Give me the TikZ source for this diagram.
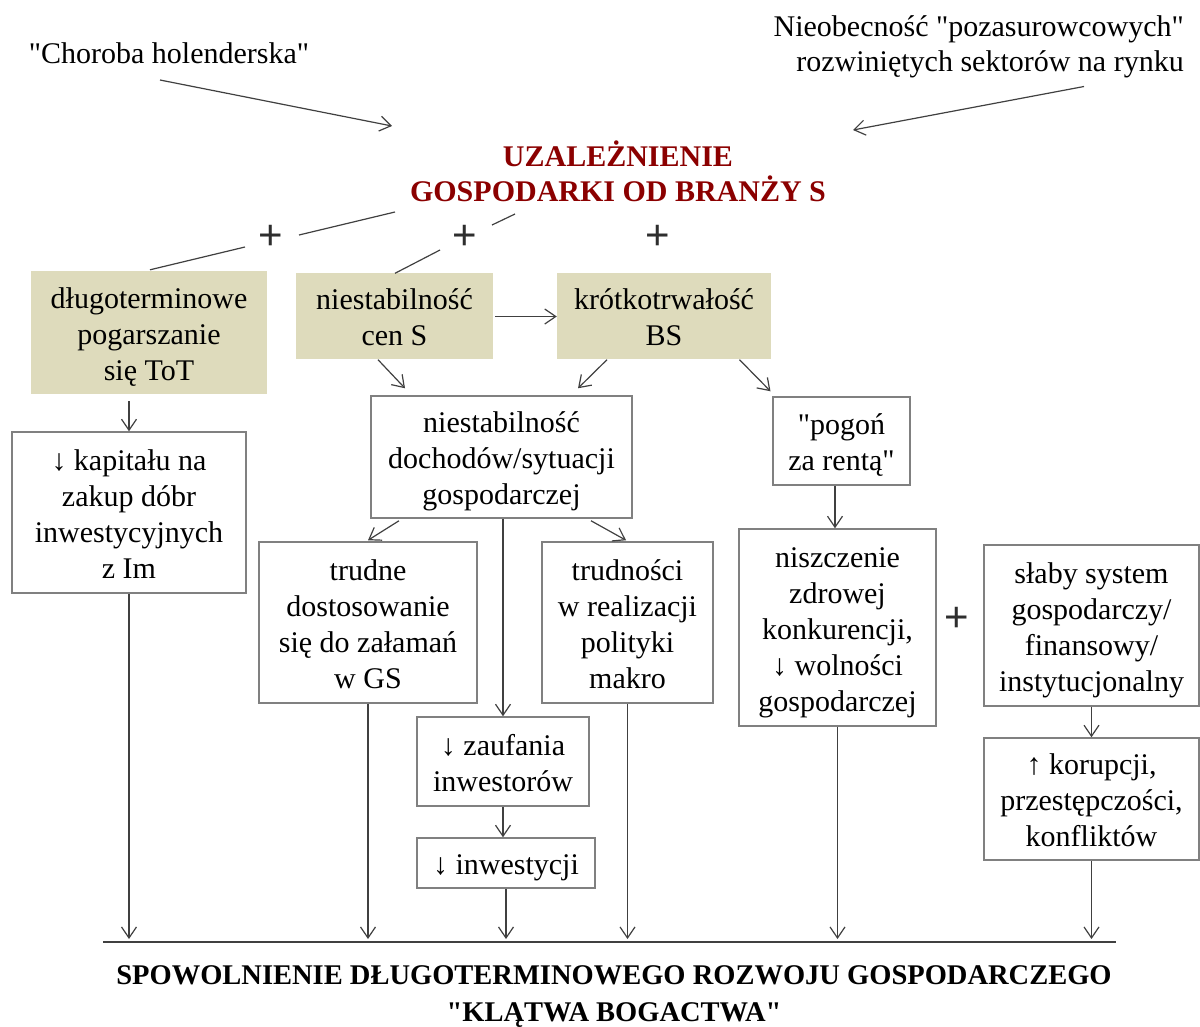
\documentclass[tikz,border=0pt]{standalone}
\usepackage{fontspec}
\setmainfont{Liberation Serif}[Ligatures=TeXOff]
\newfontfamily\plusfont{Liberation Sans}
\usetikzlibrary{arrows.meta,calc}
\definecolor{tanfill}{HTML}{DEDBBC}
\definecolor{titlered}{HTML}{8B0000}
\definecolor{linegray}{HTML}{404040}
\definecolor{boxgray}{HTML}{808080}
\definecolor{plusgray}{HTML}{2E2E2E}
% invisible strut that fixes the height and depth of a text line in a box
\newcommand\boxstrut{\rule[-6.5pt]{0pt}{36pt}}
\begin{document}
\begin{tikzpicture}[x=1pt,y=-1pt,
  every node/.style={font=\fontsize{30}{36}\selectfont, inner sep=0pt, align=center},
  sz/.style 2 args={minimum width=#1pt, minimum height=#2pt},
  boxtext/.style={execute at end node=\boxstrut},
  cause/.style={boxtext, fill=tanfill},
  effect/.style={boxtext, draw=boxgray, line width=1.5pt, fill=white},
  plus/.style={font=\plusfont\fontsize{42}{42}\selectfont, text=plusgray},
  link/.style={draw=linegray, line width=1.2pt},
  arr/.style={link, -{Straight Barb[length=11pt,width=15pt]}}]
\useasboundingbox (0,0) rectangle (1200,1026);

% free texts
\node[anchor=base] (hol) at (169,63) {"Choroba holenderska"};
\node[anchor=east, align=right, font=\fontsize{30}{35}\selectfont] (nieob) at (1184,46.5)
  {Nieobecność "pozasurowcowych"\\rozwiniętych sektorów na rynku};
\node[text=titlered, font=\bfseries\fontsize{30}{35}\selectfont] (title) at (618,171)
  {UZALEŻNIENIE\\GOSPODARKI OD BRANŻY S};

% plus signs
\node[plus] (p1) at (271,237) {+};
\node[plus] (p2) at (465,237) {+};
\node[plus] (p3) at (658,237) {+};
\node[plus] (p4) at (957,619) {+};

% shaded causes
\node[cause, sz={236}{123}] (b1) at (149,332.5) {\boxstrut długoterminowe\\pogarszanie\\się ToT};
\node[cause, sz={197}{86}] (b2) at (394.5,315.5) {\boxstrut niestabilność\\cen S};
\node[cause, sz={214}{86}] (b3) at (664,315.5) {\boxstrut krótkotrwałość\\BS};

% effects
\node[effect, sz={234}{161}] (b4) at (129,512.5) {\boxstrut ↓ kapitału na\\zakup dóbr\\inwestycyjnych\\z Im};
\node[effect, sz={261}{122}] (b5) at (501.5,457) {\boxstrut niestabilność\\dochodów/sytuacji\\gospodarczej};
\node[effect, sz={137}{88}] (b6) at (841.5,441) {\boxstrut "pogoń\\za rentą"};
\node[effect, sz={197}{197}] (b7) at (837.5,627.5) {\boxstrut niszczenie\\zdrowej\\konkurencji,\\↓ wolności\\gospodarczej};
\node[effect, sz={215}{161}] (b8) at (1091.5,625.5) {\boxstrut słaby system\\gospodarczy/\\finansowy/\\instytucjonalny};
\node[effect, sz={215}{122}] (b9) at (1091.5,799) {\boxstrut ↑ korupcji,\\przestępczości,\\konfliktów};
\node[effect, sz={218}{161}] (b10) at (368,622.5) {\boxstrut trudne\\dostosowanie\\się do załamań\\w GS};
\node[effect, sz={171}{161}] (b11) at (627.5,622.5) {\boxstrut trudności\\w realizacji\\polityki\\makro};
\node[effect, sz={172}{89}] (b12) at (503,761.5) {\boxstrut ↓ zaufania\\inwestorów};
\node[effect, sz={178}{50}] (b13) at (506,863) {\boxstrut ↓ inwestycji};

% outside factors pointing at the dependence
\draw[arr] ($(hol.base)+(-9,17)$) -- ($(title.center)+(-226,-45)$);
\draw[arr] ($(nieob.east)+(-100,40)$) -- ($(title.center)+(235,-41)$);

% dependence combined with the first two causes
\draw[link] ($(title.center)+(-223,41)$) -- ($(p1)+(28,-2)$);
\draw[link] ($(p1)+(-26,10)$) -- ($(b1.north)+(1,-1)$);
\draw[link] ($(title.center)+(-103,43)$) -- ($(p2)+(27,-12)$);
\draw[link] ($(p2)+(-25,13)$) -- ($(b2.north)+(0.5,1)$);

% causal arrows
\draw[arr] ($(b2.east)+(2,1)$) -- ($(b3.west)+(0,1)$);
\draw[arr] ($(b1.south)+(-20,7)$) -- (b4.north);
\draw[arr] ($(b2.south)+(-16.5,1)$) -- ($(b5.north)+(-96.5,-7)$);
\draw[arr] ($(b3.south)+(-57,1)$) -- ($(b5.north)+(76.5,-7)$);
\draw[arr] ($(b3.south)+(75.5,1)$) -- ($(b6.north)+(-71,-5)$);
\draw[arr] ($(b6.south)+(-6.5,0)$) -- ($(b7.north)+(-2.5,0)$);
\draw[arr] ($(b5.south)+(-102.5,2)$) -- ($(b10.north)+(0,-1)$);
\draw[arr] ($(b5.south)+(89.5,2)$) -- ($(b11.north)+(-1.5,-1)$);
\draw[arr] (b5.south -| b12.north) -- (b12.north);
\draw[arr] (b12.south) -- (b13.north -| b12.south);
\draw[arr] (b8.south) -- (b9.north);

% common outcome line
\coordinate (bl) at (103,942);
\coordinate (br) at (1116,942);
\draw[draw=linegray, line width=2pt] (bl) -- (br);
\foreach \b in {b4,b10,b13,b11,b7,b9}
  \draw[arr] (\b.south) -- ($(\b.south |- bl)+(0,-3)$);

\node[font=\bfseries\fontsize{28.5}{37}\selectfont] (result) at (614,997)
  {SPOWOLNIENIE DŁUGOTERMINOWEGO ROZWOJU GOSPODARCZEGO\\"KLĄTWA BOGACTWA"};
\end{tikzpicture}
\end{document}
